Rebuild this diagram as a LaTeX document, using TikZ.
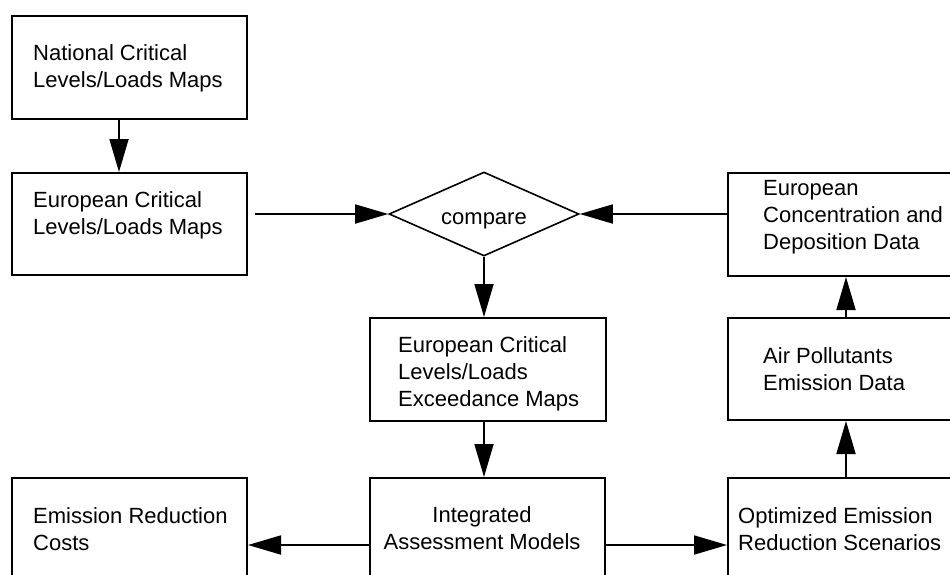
\documentclass[tikz,border=0pt]{standalone}
\usepackage{fontspec}
\setmainfont{Liberation Sans}
\usetikzlibrary{arrows.meta,shapes.geometric}
\newcommand\Lft[1]{\vtop{\halign{##\hfil\cr#1\crcr}}}
\newcommand\Ctr[1]{\vtop{\halign{\hfil##\hfil\cr#1\crcr}}}
\begin{document}
\begin{tikzpicture}[x=1pt,y=-1pt,
  box/.style={draw, line width=2pt, inner sep=0pt},
  txt/.style={anchor=base west, inner sep=0pt, font=\fontsize{22}{27}\selectfont},
  ctxt/.style={anchor=base, inner sep=0pt, font=\fontsize{22}{27}\selectfont},
  arr/.style={line width=1.8pt, -{Triangle[length=33pt,width=19pt]}}]
\useasboundingbox (0,0) rectangle (950,574);
\clip (0,0) rectangle (950,574);
% boxes
\node[box, minimum width=235pt, minimum height=103pt] (nat)   at (129.5,67.5) {};
\node[box, minimum width=235pt, minimum height=102pt] (eurcl) at (129.5,224) {};
\node[box, minimum width=236pt, minimum height=103pt] (conc)  at (846,224.5) {};
\node[box, minimum width=236pt, minimum height=102pt] (air)   at (846,369) {};
\node[box, minimum width=236pt, minimum height=103pt] (exc)   at (488,369.5) {};
\node[box, minimum width=235pt, minimum height=134pt] (integ) at (487.5,545) {};
\node[box, minimum width=235pt, minimum height=134pt] (cost)  at (129.5,545) {};
\node[box, minimum width=236pt, minimum height=134pt] (opt)   at (846,545) {};
\node[draw, diamond, line width=1.6pt, minimum width=190pt, minimum height=84pt,
      inner sep=0pt, aspect=2.26, text height=24pt, text depth=4pt,
      font=\fontsize{22}{27}\selectfont] (cmp) at (484,214) {compare};
% texts
\node[txt] (natT)  at (33,60)   {\Lft{National Critical\cr Levels/Loads Maps}};
\node[txt] (eurT)  at (33,207)  {\Lft{European Critical\cr Levels/Loads Maps}};
\node[txt] (concT) at (763,195) {\Lft{European\cr Concentration and\cr Deposition Data}};
\node[txt] (airT)  at (763,363) {\Lft{Air Pollutants\cr Emission Data}};
\node[txt] (excT)  at (398,352) {\Lft{European Critical\cr Levels/Loads\cr Exceedance Maps}};
\node[ctxt] (intT) at (482,522) {\Ctr{Integrated\cr Assessment Models}};
\node[txt] (costT) at (33,523)  {\Lft{Emission Reduction\cr Costs}};
\node[txt] (optT)  at (738,523) {\Lft{Optimized Emission\cr Reduction Scenarios}};
% connectors
\coordinate (c1) at (119,0);
\coordinate (e2) at ([xshift=7pt]eurcl.east);
\draw[arr] (nat.south -| c1) -- (eurcl.north -| c1);
\draw[arr] (e2 |- cmp.west) -- (cmp.west);
\draw[arr] (conc.west |- cmp.east) -- (cmp.east);
\draw[arr] (cmp.south) -- (cmp.south |- exc.north);
\draw[arr] (cmp.south |- exc.south) -- (cmp.south |- integ.north);
\draw[arr] (integ.west) -- (cost.east);
\draw[arr] (integ.east) -- (opt.west);
\draw[arr] (opt.north) -- (air.south);
\draw[arr] (air.north) -- (conc.south);
\end{tikzpicture}
\end{document}
